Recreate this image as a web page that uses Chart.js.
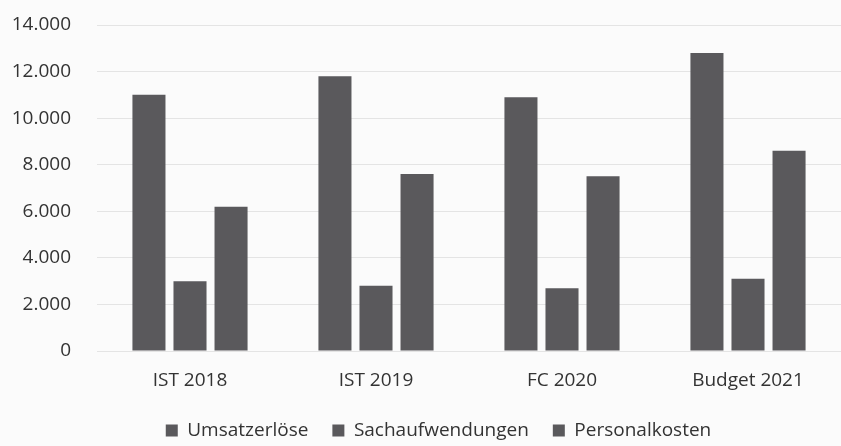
<!DOCTYPE html>
<html>
<head>
<meta charset="utf-8">
<script src="https://cdn.jsdelivr.net/npm/chart.js@4"></script>
<style>
html,body{margin:0;padding:0;background:#fbfbfb;}
#wrap{width:841px;height:446px;}
</style>
</head>
<body>
<div id="wrap"><canvas id="c" width="841" height="446"></canvas></div>
<script>
const categories = ["IST 2018", "IST 2019", "FC 2020", "Budget 2021"];
const umsatzerloese = [11000, 11800, 10900, 12800];
const sachaufwendungen = [3000, 2800, 2700, 3100];
const personalkosten = [6200, 7600, 7500, 8600];
const yTicks = [0, 2000, 4000, 6000, 8000, 10000, 12000, 14000];

const barColor = '#5a595c';
const font = {family: '"Open Sans", sans-serif', size: 19};

function fmt(v){ return v.toLocaleString('de-DE'); }

const legendShift = {
  id: 'legendShift',
  afterLayout(chart) {
    const lg = chart.legend;
    if (lg) { lg.left += 18; lg.right += 18; }
  }
};

new Chart(document.getElementById('c'), {
  type: 'bar',
  data: {
    labels: categories,
    datasets: [
      {label: 'Umsatzerlöse', data: umsatzerloese, backgroundColor: barColor},
      {label: 'Sachaufwendungen', data: sachaufwendungen, backgroundColor: barColor},
      {label: 'Personalkosten', data: personalkosten, backgroundColor: barColor}
    ]
  },
  options: {
    responsive: false,
    animation: false,
    devicePixelRatio: 1,
    categoryPercentage: 0.662,
    barPercentage: 0.805,
    layout: {padding: {left: 0, right: 0, top: 25, bottom: -4}},
    plugins: {
      tooltip: {enabled: false},
      legend: {
        position: 'bottom',
        labels: {
          font: font, color: '#333',
          boxWidth: 12, boxHeight: 12, padding: 24
        }
      }
    },
    scales: {
      x: {
        afterFit: s => { s.height = 46; },
        grid: {display: false, drawTicks: false},
        border: {display: false},
        ticks: {font: font, color: '#333', padding: 18}
      },
      y: {
        min: 0, max: 14000,
        afterBuildTicks: s => { s.ticks = yTicks.map(v => ({value: v})); },
        afterFit: s => { s.width = 97; s.paddingTop = 0; s.paddingBottom = 0; },
        grid: {color: '#e4e4e4', lineWidth: 1, drawTicks: false},
        border: {display: false},
        ticks: {font: font, color: '#333', padding: 26, callback: v => fmt(v)}
      }
    }
  },
  plugins: [legendShift]
});
</script>
</body>
</html>
